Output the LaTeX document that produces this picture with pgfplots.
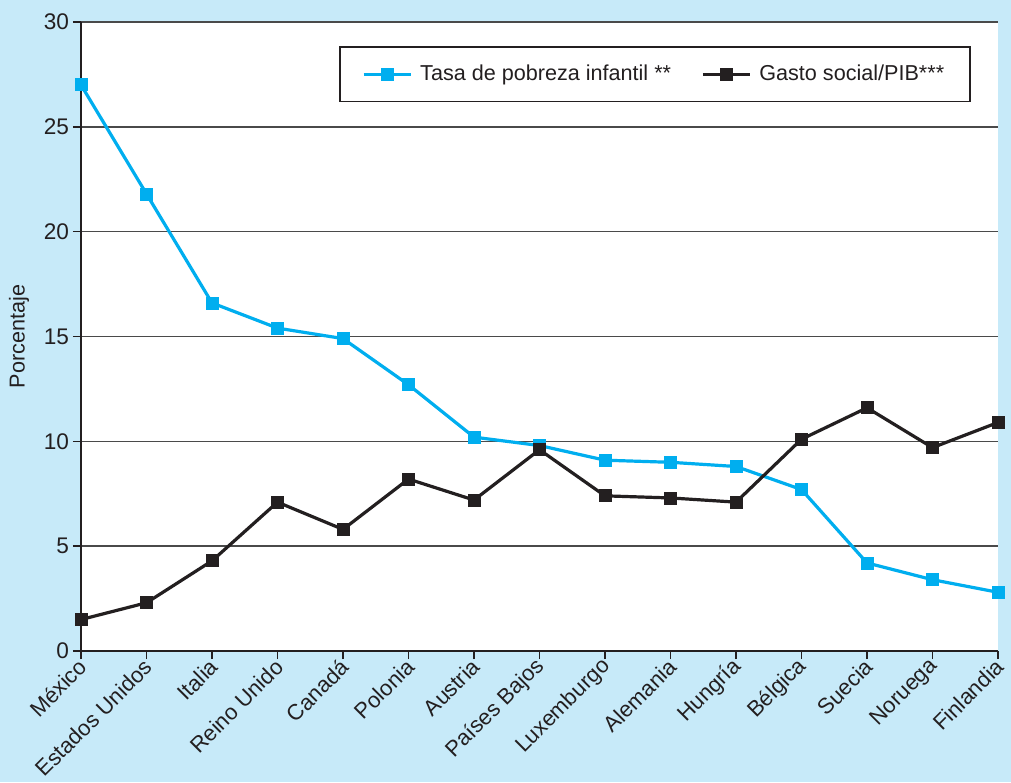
\documentclass[border=0pt]{standalone}
\usepackage{fontspec}
\setmainfont{Liberation Sans}
\usepackage{pgfplots}
\pgfplotsset{compat=1.18}
\definecolor{bgblue}{HTML}{C7EAF9}
\definecolor{serieblue}{HTML}{00AEEF}
\definecolor{serieblack}{HTML}{231F20}
\definecolor{gridgray}{HTML}{4A4A4A}

\begin{document}
\begin{tikzpicture}[x=1pt,y=1pt]
% fondo celeste de la figura
\fill[bgblue] (0,0) rectangle (505.5,391);
\path[use as bounding box] (0,0) rectangle (505.5,391);
\begin{axis}[
  at={(40.5pt,65.5pt)}, anchor=south west,
  scale only axis, width=458.5pt, height=314.5pt,
  axis background/.style={fill=white},
  clip=false,
  xmin=0, xmax=14, ymin=0, ymax=30,
  axis x line*=bottom, axis y line*=left,
  axis line style={serieblack, line width=1.3pt},
  xtick={0,...,14},
  xticklabels={México,Estados Unidos,Italia,Reino Unido,Canadá,Polonia,Austria,Países Bajos,Luxemburgo,Alemania,Hungría,Bélgica,Suecia,Noruega,Finlandia},
  ytick={0,5,...,30},
  tick align=outside, major tick length=4pt,
  tick style={serieblack, line width=0.8pt},
  ymajorgrids, grid style={gridgray, line width=0.8pt},
  font=\fontsize{10.8}{13}\selectfont,
  ticklabel style={font=\fontsize{11.3}{13}\selectfont, text=serieblack},
  /pgf/number format/assume math mode=true,
  xticklabel style={font=\fontsize{11}{13}\selectfont, inner sep=0pt, xshift=1pt, yshift=-2pt, rotate=45, anchor=east},
  yticklabel style={xshift=1.5pt},
  ylabel=Porcentaje,
  ylabel style={at={(axis description cs:-0.0676,0.5)}, anchor=center, text=serieblack},
  legend columns=2,
  legend cell align=left,
  legend style={at={(0.9706,0.9618)}, anchor=north east, draw=serieblack, line width=0.8pt,
    fill=white, inner xsep=11pt, inner ysep=7pt, text=serieblack,
    /tikz/every odd column/.append style={column sep=2pt},
    /tikz/every even column/.append style={column sep=13pt}},
  legend image code/.code={\draw[mark repeat=2, mark phase=2, #1] plot coordinates {(0pt,0pt) (11.75pt,0pt) (23.5pt,0pt)};},
]

\addplot[serieblue, line width=1.6pt, mark=square*, mark size=3pt, mark options={solid, line width=0.4pt}] coordinates {
(0,27.0) (1,21.8) (2,16.6) (3,15.4) (4,14.9) (5,12.7) (6,10.2) (7,9.8)
(8,9.1) (9,9.0) (10,8.8) (11,7.7) (12,4.2) (13,3.4) (14,2.8)
};
\addlegendentry{Tasa de pobreza infantil **}

\addplot[serieblack, line width=1.6pt, mark=square*, mark size=3pt, mark options={solid, line width=0.4pt}] coordinates {
(0,1.5) (1,2.3) (2,4.3) (3,7.1) (4,5.8) (5,8.2) (6,7.2) (7,9.6)
(8,7.4) (9,7.3) (10,7.1) (11,10.1) (12,11.6) (13,9.7) (14,10.9)
};
\addlegendentry{Gasto social/PIB***}

\end{axis}
\end{tikzpicture}
\end{document}
